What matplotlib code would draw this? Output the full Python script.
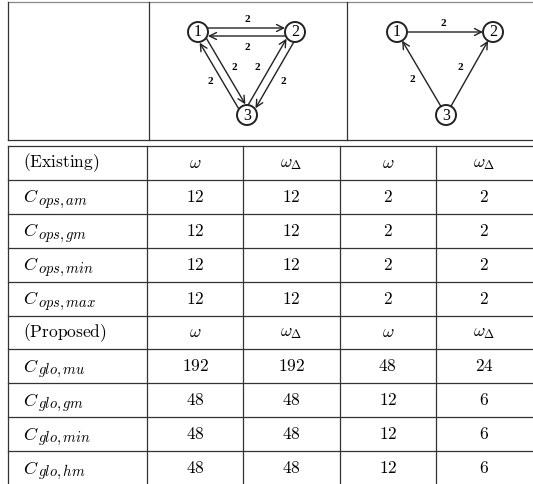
import numpy as np
import matplotlib
matplotlib.use('Agg')
import matplotlib.pyplot as plt
from matplotlib.patches import Circle, FancyArrowPatch

# table data
weight_cols = [r'$\omega$', r'$\omega_{\Delta}$', r'$\omega$', r'$\omega_{\Delta}$']
group_names = ['Existing', 'Proposed']
existing_rows = ['ops,am', 'ops,gm', 'ops,min', 'ops,max']
existing_vals = [[12, 12, 2, 2],
                 [12, 12, 2, 2],
                 [12, 12, 2, 2],
                 [12, 12, 2, 2]]
proposed_rows = ['glo,mu', 'glo,gm', 'glo,min', 'glo,hm']
proposed_vals = [[192, 192, 48, 24],
                 [48, 48, 12, 6],
                 [48, 48, 12, 6],
                 [48, 48, 12, 6]]

# graph data: edges (from, to, weight)
graph1_edges = [(1, 2, 2), (2, 1, 2), (1, 3, 2), (3, 1, 2), (2, 3, 2), (3, 2, 2)]
graph2_edges = [(1, 2, 2), (3, 1, 2), (3, 2, 2)]

plt.rcParams['mathtext.fontset'] = 'cm'
fig = plt.figure(figsize=(5.33, 4.84), dpi=100)
ax = fig.add_axes([0, 0, 1, 1])
ax.set_xlim(0, 533)
ax.set_ylim(484, 0)
ax.axis('off')

lc = '#333333'
lw = 0.9

# ---- table ----
x0, col_w = 147, 96.3
y0, row_h = 146, 33.9
col_x = [8] + [x0 + i * col_w for i in range(5)]
n_rows = 10
for i in range(n_rows + 1):
    ax.plot([8, 533], [y0 + i * row_h] * 2, color=lc, lw=lw)
for x in col_x[:-1]:
    ax.plot([x, x], [y0, 484], color=lc, lw=lw)

rows = []
rows.append(('(%s)' % group_names[0], weight_cols))
for name, vals in zip(existing_rows, existing_vals):
    rows.append((name, [r'$%d$' % v for v in vals]))
rows.append(('(%s)' % group_names[1], weight_cols))
for name, vals in zip(proposed_rows, proposed_vals):
    rows.append((name, [r'$%d$' % v for v in vals]))

for i, (lab, cells) in enumerate(rows):
    yc = y0 + (i + 0.5) * row_h
    if lab.startswith('('):
        ax.text(23, yc, r'$\mathrm{%s}$' % lab, ha='left', va='center', fontsize=12.5)
    else:
        # C with a large subscript, like the LaTeX original
        base = yc + 5.5
        ax.text(23, base, r'$C$', ha='left', va='baseline', fontsize=13)
        ax.text(37.5, base + 2.5, r'$%s$' % lab, ha='left',
                va='baseline', fontsize=10.5)
    for j, c in enumerate(cells):
        ax.text(col_x[j + 1] + col_w / 2, yc, c, ha='center', va='center', fontsize=12.5)

# ---- top picture frame ----
ax.plot([8, 533], [2, 2], color='#888888', lw=lw)
ax.plot([8, 533], [140, 140], color=lc, lw=lw)
for x in [8, 149, 347]:
    ax.plot([x, x], [2, 140], color=lc, lw=lw)


def draw_graph(nodes, edges, label_pos):
    r = 10
    for k, (cx, cy) in nodes.items():
        ax.add_patch(Circle((cx, cy), r, fill=False, lw=1.4, color='#222222'))
        ax.text(cx, cy + 0.5, str(k), ha='center', va='center', fontsize=11.5,
                family='Liberation Serif')
    pairs = set((a, b) for a, b, _ in edges)
    for (a, b, w), lp in zip(edges, label_pos):
        p = np.array(nodes[a], float)
        q = np.array(nodes[b], float)
        d = (q - p) / np.linalg.norm(q - p)
        n = np.array([d[1], -d[0]])
        off = 4.0 if (b, a) in pairs else 0.0
        s = p + d * r + n * off
        e = q - d * r + n * off
        ax.add_patch(FancyArrowPatch(s, e, arrowstyle='->,head_length=0.5,head_width=0.25',
                                     mutation_scale=10, lw=1.0, color='#222222',
                                     shrinkA=0, shrinkB=0))
        ax.text(lp[0], lp[1], str(w), ha='center', va='center', fontsize=8,
                family='Liberation Serif', fontweight='bold')


draw_graph({1: (198, 32), 2: (295, 32), 3: (247, 115)}, graph1_edges,
           [(247, 20), (247, 47), (234, 67), (210, 82), (283, 82), (257, 67)])
draw_graph({1: (397, 32), 2: (493, 32), 3: (446, 115)}, graph2_edges,
           [(443, 23), (412, 80), (460, 68)])

fig.savefig('out.png', dpi=100)
